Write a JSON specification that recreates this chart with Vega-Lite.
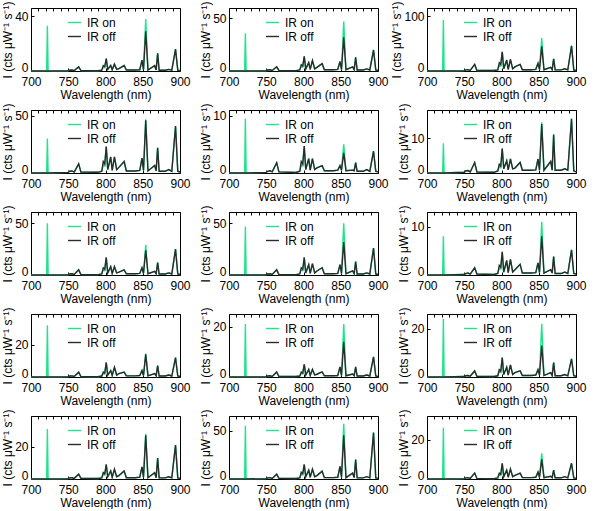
{
"$schema":"https://vega.github.io/schema/vega-lite/v6.json",
"padding":{"left":1,"top":0,"right":2,"bottom":0},
"data":{"values":[
{"p":1,"x":700,"on":0,"off":0},{"p":1,"x":721,"on":0,"off":0},{"p":1,"x":722,"on":33,"off":0},{"p":1,"x":723,"on":0,"off":0},{"p":1,"x":750,"on":0.2,"off":0.2},{"p":1,"x":752,"on":0.6,"off":0.6},{"p":1,"x":755,"on":0.7,"off":0.7},{"p":1,"x":758,"on":0.3,"off":0.3},{"p":1,"x":764,"on":3,"off":3},{"p":1,"x":767,"on":0.3,"off":0.3},{"p":1,"x":790,"on":0.2,"off":0.2},{"p":1,"x":795,"on":0.6,"off":0.6},{"p":1,"x":797,"on":2.8,"off":4},{"p":1,"x":799,"on":2.4,"off":3.2},{"p":1,"x":801,"on":9,"off":9},{"p":1,"x":803,"on":1.2,"off":1.2},{"p":1,"x":807,"on":4,"off":4},{"p":1,"x":809,"on":0.9,"off":0.9},{"p":1,"x":812,"on":5,"off":5},{"p":1,"x":815,"on":1.2,"off":1.2},{"p":1,"x":818,"on":1.8,"off":1.8},{"p":1,"x":825,"on":4,"off":4},{"p":1,"x":828,"on":0.7,"off":0.7},{"p":1,"x":840,"on":0.7,"off":0.7},{"p":1,"x":846,"on":0.9,"off":0.9},{"p":1,"x":849,"on":8,"off":8},{"p":1,"x":851,"on":0.9,"off":0.9},{"p":1,"x":854,"on":38,"off":29},{"p":1,"x":857,"on":0.7,"off":0.7},{"p":1,"x":866,"on":3.9,"off":3.9},{"p":1,"x":868,"on":0.7,"off":0.7},{"p":1,"x":870,"on":13,"off":13},{"p":1,"x":872,"on":0.6,"off":0.6},{"p":1,"x":880,"on":0.6,"off":0.6},{"p":1,"x":885,"on":1.2,"off":1.2},{"p":1,"x":889,"on":0.6,"off":0.6},{"p":1,"x":894,"on":16,"off":16},{"p":1,"x":897,"on":0.6,"off":0.6},{"p":1,"x":900,"on":0.3,"off":0.3},
{"p":2,"x":700,"on":0,"off":0},{"p":2,"x":721,"on":0,"off":0},{"p":2,"x":722,"on":36,"off":0},{"p":2,"x":723,"on":0,"off":0},{"p":2,"x":750,"on":0.3,"off":0.3},{"p":2,"x":752,"on":1,"off":1},{"p":2,"x":755,"on":1.2,"off":1.2},{"p":2,"x":758,"on":0.5,"off":0.5},{"p":2,"x":764,"on":4,"off":4},{"p":2,"x":767,"on":0.5,"off":0.5},{"p":2,"x":790,"on":0.4,"off":0.4},{"p":2,"x":795,"on":1,"off":1},{"p":2,"x":797,"on":4.2,"off":6},{"p":2,"x":799,"on":3.6,"off":4.8},{"p":2,"x":801,"on":14,"off":14},{"p":2,"x":803,"on":2,"off":2},{"p":2,"x":807,"on":8,"off":8},{"p":2,"x":809,"on":1.5,"off":1.5},{"p":2,"x":812,"on":10,"off":10},{"p":2,"x":815,"on":2,"off":2},{"p":2,"x":818,"on":3.5,"off":3.5},{"p":2,"x":825,"on":7,"off":7},{"p":2,"x":828,"on":1.2,"off":1.2},{"p":2,"x":840,"on":1.2,"off":1.2},{"p":2,"x":846,"on":1.5,"off":1.5},{"p":2,"x":849,"on":9,"off":9},{"p":2,"x":851,"on":1.5,"off":1.5},{"p":2,"x":854,"on":47,"off":32},{"p":2,"x":857,"on":1.2,"off":1.2},{"p":2,"x":866,"on":3.9,"off":3.9},{"p":2,"x":868,"on":1.2,"off":1.2},{"p":2,"x":870,"on":13,"off":13},{"p":2,"x":872,"on":1,"off":1},{"p":2,"x":880,"on":1,"off":1},{"p":2,"x":885,"on":2,"off":2},{"p":2,"x":889,"on":1,"off":1},{"p":2,"x":894,"on":20,"off":20},{"p":2,"x":897,"on":1,"off":1},{"p":2,"x":900,"on":0.5,"off":0.5},
{"p":3,"x":700,"on":0,"off":0},{"p":3,"x":721,"on":0,"off":0},{"p":3,"x":722,"on":93,"off":0},{"p":3,"x":723,"on":0,"off":0},{"p":3,"x":750,"on":0.6,"off":0.6},{"p":3,"x":752,"on":2,"off":2},{"p":3,"x":755,"on":2.4,"off":2.4},{"p":3,"x":758,"on":1,"off":1},{"p":3,"x":764,"on":12,"off":12},{"p":3,"x":767,"on":1,"off":1},{"p":3,"x":790,"on":0.8,"off":0.8},{"p":3,"x":795,"on":2,"off":2},{"p":3,"x":797,"on":10.5,"off":15},{"p":3,"x":799,"on":9,"off":12},{"p":3,"x":801,"on":35,"off":35},{"p":3,"x":803,"on":4,"off":4},{"p":3,"x":807,"on":20,"off":20},{"p":3,"x":809,"on":3,"off":3},{"p":3,"x":812,"on":21,"off":21},{"p":3,"x":815,"on":4,"off":4},{"p":3,"x":818,"on":7.4,"off":7.4},{"p":3,"x":825,"on":12,"off":12},{"p":3,"x":828,"on":2.4,"off":2.4},{"p":3,"x":840,"on":2.4,"off":2.4},{"p":3,"x":846,"on":3,"off":3},{"p":3,"x":849,"on":14,"off":14},{"p":3,"x":851,"on":3,"off":3},{"p":3,"x":854,"on":60,"off":45},{"p":3,"x":857,"on":2.4,"off":2.4},{"p":3,"x":866,"on":6.6,"off":6.6},{"p":3,"x":868,"on":2.4,"off":2.4},{"p":3,"x":870,"on":22,"off":22},{"p":3,"x":872,"on":2,"off":2},{"p":3,"x":880,"on":2,"off":2},{"p":3,"x":885,"on":4,"off":4},{"p":3,"x":889,"on":2,"off":2},{"p":3,"x":894,"on":46,"off":46},{"p":3,"x":897,"on":2,"off":2},{"p":3,"x":900,"on":1,"off":1},
{"p":4,"x":700,"on":0,"off":0},{"p":4,"x":721,"on":0,"off":0},{"p":4,"x":722,"on":30,"off":0},{"p":4,"x":723,"on":0,"off":0},{"p":4,"x":750,"on":0.5,"off":0.5},{"p":4,"x":752,"on":1.5,"off":1.5},{"p":4,"x":755,"on":1.8,"off":1.8},{"p":4,"x":758,"on":0.8,"off":0.8},{"p":4,"x":764,"on":8,"off":8},{"p":4,"x":767,"on":0.8,"off":0.8},{"p":4,"x":790,"on":0.6,"off":0.6},{"p":4,"x":795,"on":1.5,"off":1.5},{"p":4,"x":797,"on":7,"off":10},{"p":4,"x":799,"on":6,"off":8},{"p":4,"x":801,"on":23,"off":23},{"p":4,"x":803,"on":3,"off":3},{"p":4,"x":807,"on":14,"off":14},{"p":4,"x":809,"on":2.3,"off":2.3},{"p":4,"x":812,"on":14,"off":14},{"p":4,"x":815,"on":3,"off":3},{"p":4,"x":818,"on":4.9,"off":4.9},{"p":4,"x":825,"on":10,"off":10},{"p":4,"x":828,"on":1.8,"off":1.8},{"p":4,"x":840,"on":1.8,"off":1.8},{"p":4,"x":846,"on":2.3,"off":2.3},{"p":4,"x":849,"on":13,"off":13},{"p":4,"x":851,"on":2.3,"off":2.3},{"p":4,"x":854,"on":47,"off":46},{"p":4,"x":857,"on":1.8,"off":1.8},{"p":4,"x":866,"on":6.6,"off":6.6},{"p":4,"x":868,"on":1.8,"off":1.8},{"p":4,"x":870,"on":22,"off":22},{"p":4,"x":872,"on":1.5,"off":1.5},{"p":4,"x":880,"on":1.5,"off":1.5},{"p":4,"x":885,"on":3,"off":3},{"p":4,"x":889,"on":1.5,"off":1.5},{"p":4,"x":894,"on":41,"off":41},{"p":4,"x":897,"on":1.5,"off":1.5},{"p":4,"x":900,"on":0.8,"off":0.8},
{"p":5,"x":700,"on":0,"off":0},{"p":5,"x":721,"on":0,"off":0},{"p":5,"x":722,"on":9.5,"off":0},{"p":5,"x":723,"on":0,"off":0},{"p":5,"x":750,"on":0.1,"off":0.1},{"p":5,"x":752,"on":0.3,"off":0.3},{"p":5,"x":755,"on":0.4,"off":0.4},{"p":5,"x":758,"on":0.2,"off":0.2},{"p":5,"x":764,"on":1.8,"off":1.8},{"p":5,"x":767,"on":0.2,"off":0.2},{"p":5,"x":790,"on":0.1,"off":0.1},{"p":5,"x":795,"on":0.3,"off":0.3},{"p":5,"x":797,"on":1.4,"off":2},{"p":5,"x":799,"on":1.2,"off":1.6},{"p":5,"x":801,"on":4.7,"off":4.7},{"p":5,"x":803,"on":0.6,"off":0.6},{"p":5,"x":807,"on":2.5,"off":2.5},{"p":5,"x":809,"on":0.5,"off":0.5},{"p":5,"x":812,"on":2.5,"off":2.5},{"p":5,"x":815,"on":0.6,"off":0.6},{"p":5,"x":818,"on":0.9,"off":0.9},{"p":5,"x":825,"on":1.3,"off":1.3},{"p":5,"x":828,"on":0.4,"off":0.4},{"p":5,"x":840,"on":0.4,"off":0.4},{"p":5,"x":846,"on":0.5,"off":0.5},{"p":5,"x":849,"on":1.3,"off":1.3},{"p":5,"x":851,"on":0.5,"off":0.5},{"p":5,"x":854,"on":5,"off":3.5},{"p":5,"x":857,"on":0.4,"off":0.4},{"p":5,"x":866,"on":0.5,"off":0.5},{"p":5,"x":868,"on":0.4,"off":0.4},{"p":5,"x":870,"on":1.8,"off":1.8},{"p":5,"x":872,"on":0.3,"off":0.3},{"p":5,"x":880,"on":0.3,"off":0.3},{"p":5,"x":885,"on":0.6,"off":0.6},{"p":5,"x":889,"on":0.3,"off":0.3},{"p":5,"x":894,"on":3.8,"off":3.8},{"p":5,"x":897,"on":0.3,"off":0.3},{"p":5,"x":900,"on":0.2,"off":0.2},
{"p":6,"x":700,"on":0,"off":0},{"p":6,"x":721,"on":0,"off":0},{"p":6,"x":722,"on":8.5,"off":0},{"p":6,"x":723,"on":0,"off":0},{"p":6,"x":750,"on":0.2,"off":0.2},{"p":6,"x":752,"on":0.6,"off":0.6},{"p":6,"x":755,"on":0.7,"off":0.7},{"p":6,"x":758,"on":0.3,"off":0.3},{"p":6,"x":764,"on":3,"off":3},{"p":6,"x":767,"on":0.3,"off":0.3},{"p":6,"x":790,"on":0.2,"off":0.2},{"p":6,"x":795,"on":0.6,"off":0.6},{"p":6,"x":797,"on":1.8,"off":2.5},{"p":6,"x":799,"on":1.5,"off":2},{"p":6,"x":801,"on":7,"off":7},{"p":6,"x":803,"on":1.2,"off":1.2},{"p":6,"x":807,"on":3.5,"off":3.5},{"p":6,"x":809,"on":0.9,"off":0.9},{"p":6,"x":812,"on":4,"off":4},{"p":6,"x":815,"on":1.2,"off":1.2},{"p":6,"x":818,"on":1.4,"off":1.4},{"p":6,"x":825,"on":3,"off":3},{"p":6,"x":828,"on":0.8,"off":0.8},{"p":6,"x":840,"on":0.8,"off":0.8},{"p":6,"x":846,"on":0.9,"off":0.9},{"p":6,"x":849,"on":4,"off":4},{"p":6,"x":851,"on":0.9,"off":0.9},{"p":6,"x":854,"on":14.5,"off":14},{"p":6,"x":857,"on":0.8,"off":0.8},{"p":6,"x":866,"on":3.3,"off":3.3},{"p":6,"x":868,"on":0.8,"off":0.8},{"p":6,"x":870,"on":11,"off":11},{"p":6,"x":872,"on":0.8,"off":0.8},{"p":6,"x":880,"on":0.8,"off":0.8},{"p":6,"x":885,"on":1.2,"off":1.2},{"p":6,"x":889,"on":0.8,"off":0.8},{"p":6,"x":894,"on":15.5,"off":15.5},{"p":6,"x":897,"on":0.6,"off":0.6},{"p":6,"x":900,"on":0.3,"off":0.3},
{"p":7,"x":700,"on":0,"off":0},{"p":7,"x":721,"on":0,"off":0},{"p":7,"x":722,"on":50,"off":0},{"p":7,"x":723,"on":0,"off":0},{"p":7,"x":750,"on":0.3,"off":0.3},{"p":7,"x":752,"on":1,"off":1},{"p":7,"x":755,"on":1.2,"off":1.2},{"p":7,"x":758,"on":0.5,"off":0.5},{"p":7,"x":764,"on":5,"off":5},{"p":7,"x":767,"on":0.5,"off":0.5},{"p":7,"x":790,"on":0.4,"off":0.4},{"p":7,"x":795,"on":1,"off":1},{"p":7,"x":797,"on":4.9,"off":7},{"p":7,"x":799,"on":4.2,"off":5.6},{"p":7,"x":801,"on":17,"off":17},{"p":7,"x":803,"on":2,"off":2},{"p":7,"x":807,"on":8,"off":8},{"p":7,"x":809,"on":1.5,"off":1.5},{"p":7,"x":812,"on":8,"off":8},{"p":7,"x":815,"on":2,"off":2},{"p":7,"x":818,"on":2.8,"off":2.8},{"p":7,"x":825,"on":5,"off":5},{"p":7,"x":828,"on":1.2,"off":1.2},{"p":7,"x":840,"on":1.2,"off":1.2},{"p":7,"x":846,"on":1.5,"off":1.5},{"p":7,"x":849,"on":7,"off":7},{"p":7,"x":851,"on":1.5,"off":1.5},{"p":7,"x":854,"on":29,"off":24},{"p":7,"x":857,"on":1.2,"off":1.2},{"p":7,"x":866,"on":3.6,"off":3.6},{"p":7,"x":868,"on":1.2,"off":1.2},{"p":7,"x":870,"on":12,"off":12},{"p":7,"x":872,"on":1,"off":1},{"p":7,"x":880,"on":1,"off":1},{"p":7,"x":885,"on":2,"off":2},{"p":7,"x":889,"on":1,"off":1},{"p":7,"x":894,"on":25,"off":25},{"p":7,"x":897,"on":1,"off":1},{"p":7,"x":900,"on":0.5,"off":0.5},
{"p":8,"x":700,"on":0,"off":0},{"p":8,"x":721,"on":0,"off":0},{"p":8,"x":722,"on":47,"off":0},{"p":8,"x":723,"on":0,"off":0},{"p":8,"x":750,"on":0.3,"off":0.3},{"p":8,"x":752,"on":1,"off":1},{"p":8,"x":755,"on":1.2,"off":1.2},{"p":8,"x":758,"on":0.5,"off":0.5},{"p":8,"x":764,"on":5,"off":5},{"p":8,"x":767,"on":0.5,"off":0.5},{"p":8,"x":790,"on":0.4,"off":0.4},{"p":8,"x":795,"on":1,"off":1},{"p":8,"x":797,"on":4.9,"off":7},{"p":8,"x":799,"on":4.2,"off":5.6},{"p":8,"x":801,"on":17,"off":17},{"p":8,"x":803,"on":2,"off":2},{"p":8,"x":807,"on":10,"off":10},{"p":8,"x":809,"on":1.5,"off":1.5},{"p":8,"x":812,"on":11,"off":11},{"p":8,"x":815,"on":2,"off":2},{"p":8,"x":818,"on":3.9,"off":3.9},{"p":8,"x":825,"on":7,"off":7},{"p":8,"x":828,"on":1.2,"off":1.2},{"p":8,"x":840,"on":1.2,"off":1.2},{"p":8,"x":846,"on":1.5,"off":1.5},{"p":8,"x":849,"on":10,"off":10},{"p":8,"x":851,"on":1.5,"off":1.5},{"p":8,"x":854,"on":50,"off":32},{"p":8,"x":857,"on":1.2,"off":1.2},{"p":8,"x":866,"on":3.9,"off":3.9},{"p":8,"x":868,"on":1.2,"off":1.2},{"p":8,"x":870,"on":13,"off":13},{"p":8,"x":872,"on":1,"off":1},{"p":8,"x":880,"on":1,"off":1},{"p":8,"x":885,"on":2,"off":2},{"p":8,"x":889,"on":1,"off":1},{"p":8,"x":894,"on":26,"off":26},{"p":8,"x":897,"on":1,"off":1},{"p":8,"x":900,"on":0.5,"off":0.5},
{"p":9,"x":700,"on":0,"off":0},{"p":9,"x":721,"on":0,"off":0},{"p":9,"x":722,"on":8,"off":0},{"p":9,"x":723,"on":0,"off":0},{"p":9,"x":750,"on":0.1,"off":0.1},{"p":9,"x":752,"on":0.3,"off":0.3},{"p":9,"x":755,"on":0.4,"off":0.4},{"p":9,"x":758,"on":0.2,"off":0.2},{"p":9,"x":764,"on":1.5,"off":1.5},{"p":9,"x":767,"on":0.2,"off":0.2},{"p":9,"x":790,"on":0.1,"off":0.1},{"p":9,"x":795,"on":0.3,"off":0.3},{"p":9,"x":797,"on":1.4,"off":2},{"p":9,"x":799,"on":1.2,"off":1.6},{"p":9,"x":801,"on":4.8,"off":4.8},{"p":9,"x":803,"on":0.6,"off":0.6},{"p":9,"x":807,"on":3,"off":3},{"p":9,"x":809,"on":0.5,"off":0.5},{"p":9,"x":812,"on":3.2,"off":3.2},{"p":9,"x":815,"on":0.6,"off":0.6},{"p":9,"x":818,"on":1.1,"off":1.1},{"p":9,"x":825,"on":2.2,"off":2.2},{"p":9,"x":828,"on":0.4,"off":0.4},{"p":9,"x":840,"on":0.4,"off":0.4},{"p":9,"x":846,"on":0.5,"off":0.5},{"p":9,"x":849,"on":2.5,"off":2.5},{"p":9,"x":851,"on":0.5,"off":0.5},{"p":9,"x":854,"on":11,"off":8},{"p":9,"x":857,"on":0.4,"off":0.4},{"p":9,"x":866,"on":1.1,"off":1.1},{"p":9,"x":868,"on":0.4,"off":0.4},{"p":9,"x":870,"on":3.8,"off":3.8},{"p":9,"x":872,"on":0.3,"off":0.3},{"p":9,"x":880,"on":0.3,"off":0.3},{"p":9,"x":885,"on":0.6,"off":0.6},{"p":9,"x":889,"on":0.3,"off":0.3},{"p":9,"x":894,"on":5.2,"off":5.2},{"p":9,"x":897,"on":0.3,"off":0.3},{"p":9,"x":900,"on":0.2,"off":0.2},
{"p":10,"x":700,"on":0,"off":0},{"p":10,"x":721,"on":0,"off":0},{"p":10,"x":722,"on":32,"off":0},{"p":10,"x":723,"on":0,"off":0},{"p":10,"x":750,"on":0.2,"off":0.2},{"p":10,"x":752,"on":0.6,"off":0.6},{"p":10,"x":755,"on":0.7,"off":0.7},{"p":10,"x":758,"on":0.3,"off":0.3},{"p":10,"x":764,"on":3,"off":3},{"p":10,"x":767,"on":0.3,"off":0.3},{"p":10,"x":790,"on":0.2,"off":0.2},{"p":10,"x":795,"on":0.6,"off":0.6},{"p":10,"x":797,"on":2.1,"off":3},{"p":10,"x":799,"on":1.8,"off":2.4},{"p":10,"x":801,"on":9,"off":9},{"p":10,"x":803,"on":1.2,"off":1.2},{"p":10,"x":807,"on":4,"off":4},{"p":10,"x":809,"on":0.9,"off":0.9},{"p":10,"x":812,"on":6,"off":6},{"p":10,"x":815,"on":1.2,"off":1.2},{"p":10,"x":818,"on":2.1,"off":2.1},{"p":10,"x":825,"on":3,"off":3},{"p":10,"x":828,"on":0.7,"off":0.7},{"p":10,"x":840,"on":0.7,"off":0.7},{"p":10,"x":846,"on":0.9,"off":0.9},{"p":10,"x":849,"on":4,"off":4},{"p":10,"x":851,"on":0.9,"off":0.9},{"p":10,"x":854,"on":14.5,"off":14},{"p":10,"x":857,"on":0.7,"off":0.7},{"p":10,"x":866,"on":2.1,"off":2.1},{"p":10,"x":868,"on":0.7,"off":0.7},{"p":10,"x":870,"on":7,"off":7},{"p":10,"x":872,"on":0.6,"off":0.6},{"p":10,"x":880,"on":0.6,"off":0.6},{"p":10,"x":885,"on":1.2,"off":1.2},{"p":10,"x":889,"on":0.6,"off":0.6},{"p":10,"x":894,"on":12,"off":12},{"p":10,"x":897,"on":0.6,"off":0.6},{"p":10,"x":900,"on":0.3,"off":0.3},
{"p":11,"x":700,"on":0,"off":0},{"p":11,"x":721,"on":0,"off":0},{"p":11,"x":722,"on":21,"off":0},{"p":11,"x":723,"on":0,"off":0},{"p":11,"x":750,"on":0.1,"off":0.1},{"p":11,"x":752,"on":0.4,"off":0.4},{"p":11,"x":755,"on":0.5,"off":0.5},{"p":11,"x":758,"on":0.2,"off":0.2},{"p":11,"x":764,"on":2,"off":2},{"p":11,"x":767,"on":0.2,"off":0.2},{"p":11,"x":790,"on":0.2,"off":0.2},{"p":11,"x":795,"on":0.4,"off":0.4},{"p":11,"x":797,"on":1.4,"off":2},{"p":11,"x":799,"on":1.2,"off":1.6},{"p":11,"x":801,"on":5,"off":5},{"p":11,"x":803,"on":0.8,"off":0.8},{"p":11,"x":807,"on":3,"off":3},{"p":11,"x":809,"on":0.6,"off":0.6},{"p":11,"x":812,"on":3,"off":3},{"p":11,"x":815,"on":0.8,"off":0.8},{"p":11,"x":818,"on":1.1,"off":1.1},{"p":11,"x":825,"on":2,"off":2},{"p":11,"x":828,"on":0.5,"off":0.5},{"p":11,"x":840,"on":0.5,"off":0.5},{"p":11,"x":846,"on":0.6,"off":0.6},{"p":11,"x":849,"on":4,"off":4},{"p":11,"x":851,"on":0.6,"off":0.6},{"p":11,"x":854,"on":21,"off":14},{"p":11,"x":857,"on":0.5,"off":0.5},{"p":11,"x":866,"on":1.2,"off":1.2},{"p":11,"x":868,"on":0.5,"off":0.5},{"p":11,"x":870,"on":4,"off":4},{"p":11,"x":872,"on":0.4,"off":0.4},{"p":11,"x":880,"on":0.4,"off":0.4},{"p":11,"x":885,"on":0.8,"off":0.8},{"p":11,"x":889,"on":0.4,"off":0.4},{"p":11,"x":894,"on":8,"off":8},{"p":11,"x":897,"on":0.4,"off":0.4},{"p":11,"x":900,"on":0.2,"off":0.2},
{"p":12,"x":700,"on":0,"off":0},{"p":12,"x":721,"on":0,"off":0},{"p":12,"x":722,"on":24,"off":0},{"p":12,"x":723,"on":0,"off":0},{"p":12,"x":750,"on":0.2,"off":0.2},{"p":12,"x":752,"on":0.5,"off":0.5},{"p":12,"x":755,"on":0.6,"off":0.6},{"p":12,"x":758,"on":0.3,"off":0.3},{"p":12,"x":764,"on":2.5,"off":2.5},{"p":12,"x":767,"on":0.3,"off":0.3},{"p":12,"x":790,"on":0.2,"off":0.2},{"p":12,"x":795,"on":0.5,"off":0.5},{"p":12,"x":797,"on":2.1,"off":3},{"p":12,"x":799,"on":1.8,"off":2.4},{"p":12,"x":801,"on":8,"off":8},{"p":12,"x":803,"on":1,"off":1},{"p":12,"x":807,"on":4,"off":4},{"p":12,"x":809,"on":0.8,"off":0.8},{"p":12,"x":812,"on":5,"off":5},{"p":12,"x":815,"on":1,"off":1},{"p":12,"x":818,"on":1.8,"off":1.8},{"p":12,"x":825,"on":2.5,"off":2.5},{"p":12,"x":828,"on":0.6,"off":0.6},{"p":12,"x":840,"on":0.6,"off":0.6},{"p":12,"x":846,"on":0.8,"off":0.8},{"p":12,"x":849,"on":3,"off":3},{"p":12,"x":851,"on":0.8,"off":0.8},{"p":12,"x":854,"on":22,"off":13},{"p":12,"x":857,"on":0.6,"off":0.6},{"p":12,"x":866,"on":1.8,"off":1.8},{"p":12,"x":868,"on":0.6,"off":0.6},{"p":12,"x":870,"on":6,"off":6},{"p":12,"x":872,"on":0.5,"off":0.5},{"p":12,"x":880,"on":0.5,"off":0.5},{"p":12,"x":885,"on":1,"off":1},{"p":12,"x":889,"on":0.5,"off":0.5},{"p":12,"x":894,"on":7.5,"off":7.5},{"p":12,"x":897,"on":0.5,"off":0.5},{"p":12,"x":900,"on":0.3,"off":0.3},
{"p":13,"x":700,"on":0,"off":0},{"p":13,"x":721,"on":0,"off":0},{"p":13,"x":722,"on":31,"off":0},{"p":13,"x":723,"on":0,"off":0},{"p":13,"x":750,"on":0.2,"off":0.2},{"p":13,"x":752,"on":0.7,"off":0.7},{"p":13,"x":755,"on":0.8,"off":0.8},{"p":13,"x":758,"on":0.4,"off":0.4},{"p":13,"x":764,"on":3,"off":3},{"p":13,"x":767,"on":0.4,"off":0.4},{"p":13,"x":790,"on":0.3,"off":0.3},{"p":13,"x":795,"on":0.7,"off":0.7},{"p":13,"x":797,"on":2.8,"off":4},{"p":13,"x":799,"on":2.4,"off":3.2},{"p":13,"x":801,"on":9,"off":9},{"p":13,"x":803,"on":1.4,"off":1.4},{"p":13,"x":807,"on":5,"off":5},{"p":13,"x":809,"on":1.1,"off":1.1},{"p":13,"x":812,"on":6,"off":6},{"p":13,"x":815,"on":1.4,"off":1.4},{"p":13,"x":818,"on":2.1,"off":2.1},{"p":13,"x":825,"on":5,"off":5},{"p":13,"x":828,"on":0.8,"off":0.8},{"p":13,"x":840,"on":0.8,"off":0.8},{"p":13,"x":846,"on":1.1,"off":1.1},{"p":13,"x":849,"on":7.5,"off":7.5},{"p":13,"x":851,"on":1.1,"off":1.1},{"p":13,"x":854,"on":28,"off":27},{"p":13,"x":857,"on":0.8,"off":0.8},{"p":13,"x":866,"on":3.9,"off":3.9},{"p":13,"x":868,"on":0.8,"off":0.8},{"p":13,"x":870,"on":13,"off":13},{"p":13,"x":872,"on":0.7,"off":0.7},{"p":13,"x":880,"on":0.7,"off":0.7},{"p":13,"x":885,"on":1.4,"off":1.4},{"p":13,"x":889,"on":0.7,"off":0.7},{"p":13,"x":894,"on":21,"off":21},{"p":13,"x":897,"on":0.7,"off":0.7},{"p":13,"x":900,"on":0.4,"off":0.4},
{"p":14,"x":700,"on":0,"off":0},{"p":14,"x":721,"on":0,"off":0},{"p":14,"x":722,"on":55,"off":0},{"p":14,"x":723,"on":0,"off":0},{"p":14,"x":750,"on":0.4,"off":0.4},{"p":14,"x":752,"on":1.2,"off":1.2},{"p":14,"x":755,"on":1.4,"off":1.4},{"p":14,"x":758,"on":0.6,"off":0.6},{"p":14,"x":764,"on":5,"off":5},{"p":14,"x":767,"on":0.6,"off":0.6},{"p":14,"x":790,"on":0.5,"off":0.5},{"p":14,"x":795,"on":1.2,"off":1.2},{"p":14,"x":797,"on":4.9,"off":7},{"p":14,"x":799,"on":4.2,"off":5.6},{"p":14,"x":801,"on":15,"off":15},{"p":14,"x":803,"on":2.4,"off":2.4},{"p":14,"x":807,"on":9,"off":9},{"p":14,"x":809,"on":1.8,"off":1.8},{"p":14,"x":812,"on":10,"off":10},{"p":14,"x":815,"on":2.4,"off":2.4},{"p":14,"x":818,"on":3.5,"off":3.5},{"p":14,"x":825,"on":8,"off":8},{"p":14,"x":828,"on":1.4,"off":1.4},{"p":14,"x":840,"on":1.4,"off":1.4},{"p":14,"x":846,"on":1.8,"off":1.8},{"p":14,"x":849,"on":13,"off":13},{"p":14,"x":851,"on":1.8,"off":1.8},{"p":14,"x":854,"on":57,"off":45},{"p":14,"x":857,"on":1.4,"off":1.4},{"p":14,"x":866,"on":6,"off":6},{"p":14,"x":868,"on":1.4,"off":1.4},{"p":14,"x":870,"on":20,"off":20},{"p":14,"x":872,"on":1.2,"off":1.2},{"p":14,"x":880,"on":1.2,"off":1.2},{"p":14,"x":885,"on":2.4,"off":2.4},{"p":14,"x":889,"on":1.2,"off":1.2},{"p":14,"x":894,"on":48,"off":48},{"p":14,"x":897,"on":1.2,"off":1.2},{"p":14,"x":900,"on":0.6,"off":0.6},
{"p":15,"x":700,"on":0,"off":0},{"p":15,"x":721,"on":0,"off":0},{"p":15,"x":722,"on":26,"off":0},{"p":15,"x":723,"on":0,"off":0},{"p":15,"x":750,"on":0.2,"off":0.2},{"p":15,"x":752,"on":0.6,"off":0.6},{"p":15,"x":755,"on":0.7,"off":0.7},{"p":15,"x":758,"on":0.3,"off":0.3},{"p":15,"x":764,"on":3,"off":3},{"p":15,"x":767,"on":0.3,"off":0.3},{"p":15,"x":790,"on":0.2,"off":0.2},{"p":15,"x":795,"on":0.6,"off":0.6},{"p":15,"x":797,"on":2.1,"off":3},{"p":15,"x":799,"on":1.8,"off":2.4},{"p":15,"x":801,"on":8,"off":8},{"p":15,"x":803,"on":1.2,"off":1.2},{"p":15,"x":807,"on":4.5,"off":4.5},{"p":15,"x":809,"on":0.9,"off":0.9},{"p":15,"x":812,"on":5,"off":5},{"p":15,"x":815,"on":1.2,"off":1.2},{"p":15,"x":818,"on":1.8,"off":1.8},{"p":15,"x":825,"on":3,"off":3},{"p":15,"x":828,"on":0.7,"off":0.7},{"p":15,"x":840,"on":0.7,"off":0.7},{"p":15,"x":846,"on":0.9,"off":0.9},{"p":15,"x":849,"on":3.5,"off":3.5},{"p":15,"x":851,"on":0.9,"off":0.9},{"p":15,"x":854,"on":13,"off":10},{"p":15,"x":857,"on":0.7,"off":0.7},{"p":15,"x":866,"on":1.4,"off":1.4},{"p":15,"x":868,"on":0.7,"off":0.7},{"p":15,"x":870,"on":4.5,"off":4.5},{"p":15,"x":872,"on":0.6,"off":0.6},{"p":15,"x":880,"on":0.6,"off":0.6},{"p":15,"x":885,"on":1.2,"off":1.2},{"p":15,"x":889,"on":0.6,"off":0.6},{"p":15,"x":894,"on":8,"off":8},{"p":15,"x":897,"on":0.6,"off":0.6},{"p":15,"x":900,"on":0.3,"off":0.3}
]},
"columns":3,
"spacing":{"row":39,"column":49},
"bounds":"flush",
"resolve":{"scale":{"x":"independent","y":"independent","color":"independent"},"axis":{"x":"independent","y":"independent"},"legend":{"color":"independent"}},
"concat":[
{"transform":[{"filter":"datum.p==1"}],"resolve":{"axis":{"x":"independent"}},"layer":[{"mark":"line","encoding":{"x":{"field":"x","type":"quantitative","scale":{"domain":[700,900],"nice":false},"axis":{"values":[700,750,800,850,900]},"title":"Wavelength (nm)"},"y":{"field":"on","type":"quantitative","scale":{"domain":[0,46],"nice":false},"axis":{"values":[0,20,40],"labelOffset":{"condition":{"test":"datum.value===0","value":-4},"value":0}},"title":"I (cts μW⁻¹ s⁻¹)"},"color":{"datum":"IR on","scale":{"domain":["IR on","IR off"],"range":["#22e38b","#2b2b2b"]},"legend":{"title":null}}}},{"mark":"line","encoding":{"x":{"field":"x","type":"quantitative","axis":null},"y":{"field":"off","type":"quantitative","title":"I (cts μW⁻¹ s⁻¹)"},"color":{"datum":"IR off"}}},{"mark":{"type":"rule","opacity":0},"encoding":{"x":{"field":"x","type":"quantitative","axis":{"orient":"top","labels":false,"title":null,"values":[700,710,720,730,740,750,760,770,780,790,800,810,820,830,840,850,860,870,880,890,900]}}}}]},
{"transform":[{"filter":"datum.p==2"}],"resolve":{"axis":{"x":"independent"}},"layer":[{"mark":"line","encoding":{"x":{"field":"x","type":"quantitative","scale":{"domain":[700,900],"nice":false},"axis":{"values":[700,750,800,850,900]},"title":"Wavelength (nm)"},"y":{"field":"on","type":"quantitative","scale":{"domain":[0,60],"nice":false},"axis":{"values":[0,50],"labelOffset":{"condition":{"test":"datum.value===0","value":-4},"value":0}},"title":"I (cts μW⁻¹ s⁻¹)"},"color":{"datum":"IR on","scale":{"domain":["IR on","IR off"],"range":["#22e38b","#2b2b2b"]},"legend":{"title":null}}}},{"mark":"line","encoding":{"x":{"field":"x","type":"quantitative","axis":null},"y":{"field":"off","type":"quantitative","title":"I (cts μW⁻¹ s⁻¹)"},"color":{"datum":"IR off"}}},{"mark":{"type":"rule","opacity":0},"encoding":{"x":{"field":"x","type":"quantitative","axis":{"orient":"top","labels":false,"title":null,"values":[700,710,720,730,740,750,760,770,780,790,800,810,820,830,840,850,860,870,880,890,900]}}}}]},
{"transform":[{"filter":"datum.p==3"}],"resolve":{"axis":{"x":"independent"}},"layer":[{"mark":"line","encoding":{"x":{"field":"x","type":"quantitative","scale":{"domain":[700,900],"nice":false},"axis":{"values":[700,750,800,850,900]},"title":"Wavelength (nm)"},"y":{"field":"on","type":"quantitative","scale":{"domain":[0,115],"nice":false},"axis":{"values":[0,50,100],"labelOffset":{"condition":{"test":"datum.value===0","value":-4},"value":0}},"title":"I (cts μW⁻¹ s⁻¹)"},"color":{"datum":"IR on","scale":{"domain":["IR on","IR off"],"range":["#22e38b","#2b2b2b"]},"legend":{"title":null}}}},{"mark":"line","encoding":{"x":{"field":"x","type":"quantitative","axis":null},"y":{"field":"off","type":"quantitative","title":"I (cts μW⁻¹ s⁻¹)"},"color":{"datum":"IR off"}}},{"mark":{"type":"rule","opacity":0},"encoding":{"x":{"field":"x","type":"quantitative","axis":{"orient":"top","labels":false,"title":null,"values":[700,710,720,730,740,750,760,770,780,790,800,810,820,830,840,850,860,870,880,890,900]}}}}]},
{"transform":[{"filter":"datum.p==4"}],"resolve":{"axis":{"x":"independent"}},"layer":[{"mark":"line","encoding":{"x":{"field":"x","type":"quantitative","scale":{"domain":[700,900],"nice":false},"axis":{"values":[700,750,800,850,900]},"title":"Wavelength (nm)"},"y":{"field":"on","type":"quantitative","scale":{"domain":[0,55],"nice":false},"axis":{"values":[0,50],"labelOffset":{"condition":{"test":"datum.value===0","value":-4},"value":0}},"title":"I (cts μW⁻¹ s⁻¹)"},"color":{"datum":"IR on","scale":{"domain":["IR on","IR off"],"range":["#22e38b","#2b2b2b"]},"legend":{"title":null}}}},{"mark":"line","encoding":{"x":{"field":"x","type":"quantitative","axis":null},"y":{"field":"off","type":"quantitative","title":"I (cts μW⁻¹ s⁻¹)"},"color":{"datum":"IR off"}}},{"mark":{"type":"rule","opacity":0},"encoding":{"x":{"field":"x","type":"quantitative","axis":{"orient":"top","labels":false,"title":null,"values":[700,710,720,730,740,750,760,770,780,790,800,810,820,830,840,850,860,870,880,890,900]}}}}]},
{"transform":[{"filter":"datum.p==5"}],"resolve":{"axis":{"x":"independent"}},"layer":[{"mark":"line","encoding":{"x":{"field":"x","type":"quantitative","scale":{"domain":[700,900],"nice":false},"axis":{"values":[700,750,800,850,900]},"title":"Wavelength (nm)"},"y":{"field":"on","type":"quantitative","scale":{"domain":[0,11],"nice":false},"axis":{"values":[0,5,10],"labelOffset":{"condition":{"test":"datum.value===0","value":-4},"value":0}},"title":"I (cts μW⁻¹ s⁻¹)"},"color":{"datum":"IR on","scale":{"domain":["IR on","IR off"],"range":["#22e38b","#2b2b2b"]},"legend":{"title":null}}}},{"mark":"line","encoding":{"x":{"field":"x","type":"quantitative","axis":null},"y":{"field":"off","type":"quantitative","title":"I (cts μW⁻¹ s⁻¹)"},"color":{"datum":"IR off"}}},{"mark":{"type":"rule","opacity":0},"encoding":{"x":{"field":"x","type":"quantitative","axis":{"orient":"top","labels":false,"title":null,"values":[700,710,720,730,740,750,760,770,780,790,800,810,820,830,840,850,860,870,880,890,900]}}}}]},
{"transform":[{"filter":"datum.p==6"}],"resolve":{"axis":{"x":"independent"}},"layer":[{"mark":"line","encoding":{"x":{"field":"x","type":"quantitative","scale":{"domain":[700,900],"nice":false},"axis":{"values":[700,750,800,850,900]},"title":"Wavelength (nm)"},"y":{"field":"on","type":"quantitative","scale":{"domain":[0,18],"nice":false},"axis":{"values":[0,10],"labelOffset":{"condition":{"test":"datum.value===0","value":-4},"value":0}},"title":"I (cts μW⁻¹ s⁻¹)"},"color":{"datum":"IR on","scale":{"domain":["IR on","IR off"],"range":["#22e38b","#2b2b2b"]},"legend":{"title":null}}}},{"mark":"line","encoding":{"x":{"field":"x","type":"quantitative","axis":null},"y":{"field":"off","type":"quantitative","title":"I (cts μW⁻¹ s⁻¹)"},"color":{"datum":"IR off"}}},{"mark":{"type":"rule","opacity":0},"encoding":{"x":{"field":"x","type":"quantitative","axis":{"orient":"top","labels":false,"title":null,"values":[700,710,720,730,740,750,760,770,780,790,800,810,820,830,840,850,860,870,880,890,900]}}}}]},
{"transform":[{"filter":"datum.p==7"}],"resolve":{"axis":{"x":"independent"}},"layer":[{"mark":"line","encoding":{"x":{"field":"x","type":"quantitative","scale":{"domain":[700,900],"nice":false},"axis":{"values":[700,750,800,850,900]},"title":"Wavelength (nm)"},"y":{"field":"on","type":"quantitative","scale":{"domain":[0,61],"nice":false},"axis":{"values":[0,50],"labelOffset":{"condition":{"test":"datum.value===0","value":-4},"value":0}},"title":"I (cts μW⁻¹ s⁻¹)"},"color":{"datum":"IR on","scale":{"domain":["IR on","IR off"],"range":["#22e38b","#2b2b2b"]},"legend":{"title":null}}}},{"mark":"line","encoding":{"x":{"field":"x","type":"quantitative","axis":null},"y":{"field":"off","type":"quantitative","title":"I (cts μW⁻¹ s⁻¹)"},"color":{"datum":"IR off"}}},{"mark":{"type":"rule","opacity":0},"encoding":{"x":{"field":"x","type":"quantitative","axis":{"orient":"top","labels":false,"title":null,"values":[700,710,720,730,740,750,760,770,780,790,800,810,820,830,840,850,860,870,880,890,900]}}}}]},
{"transform":[{"filter":"datum.p==8"}],"resolve":{"axis":{"x":"independent"}},"layer":[{"mark":"line","encoding":{"x":{"field":"x","type":"quantitative","scale":{"domain":[700,900],"nice":false},"axis":{"values":[700,750,800,850,900]},"title":"Wavelength (nm)"},"y":{"field":"on","type":"quantitative","scale":{"domain":[0,61],"nice":false},"axis":{"values":[0,50],"labelOffset":{"condition":{"test":"datum.value===0","value":-4},"value":0}},"title":"I (cts μW⁻¹ s⁻¹)"},"color":{"datum":"IR on","scale":{"domain":["IR on","IR off"],"range":["#22e38b","#2b2b2b"]},"legend":{"title":null}}}},{"mark":"line","encoding":{"x":{"field":"x","type":"quantitative","axis":null},"y":{"field":"off","type":"quantitative","title":"I (cts μW⁻¹ s⁻¹)"},"color":{"datum":"IR off"}}},{"mark":{"type":"rule","opacity":0},"encoding":{"x":{"field":"x","type":"quantitative","axis":{"orient":"top","labels":false,"title":null,"values":[700,710,720,730,740,750,760,770,780,790,800,810,820,830,840,850,860,870,880,890,900]}}}}]},
{"transform":[{"filter":"datum.p==9"}],"resolve":{"axis":{"x":"independent"}},"layer":[{"mark":"line","encoding":{"x":{"field":"x","type":"quantitative","scale":{"domain":[700,900],"nice":false},"axis":{"values":[700,750,800,850,900]},"title":"Wavelength (nm)"},"y":{"field":"on","type":"quantitative","scale":{"domain":[0,13],"nice":false},"axis":{"values":[0,5,10],"labelOffset":{"condition":{"test":"datum.value===0","value":-4},"value":0}},"title":"I (cts μW⁻¹ s⁻¹)"},"color":{"datum":"IR on","scale":{"domain":["IR on","IR off"],"range":["#22e38b","#2b2b2b"]},"legend":{"title":null}}}},{"mark":"line","encoding":{"x":{"field":"x","type":"quantitative","axis":null},"y":{"field":"off","type":"quantitative","title":"I (cts μW⁻¹ s⁻¹)"},"color":{"datum":"IR off"}}},{"mark":{"type":"rule","opacity":0},"encoding":{"x":{"field":"x","type":"quantitative","axis":{"orient":"top","labels":false,"title":null,"values":[700,710,720,730,740,750,760,770,780,790,800,810,820,830,840,850,860,870,880,890,900]}}}}]},
{"transform":[{"filter":"datum.p==10"}],"resolve":{"axis":{"x":"independent"}},"layer":[{"mark":"line","encoding":{"x":{"field":"x","type":"quantitative","scale":{"domain":[700,900],"nice":false},"axis":{"values":[700,750,800,850,900]},"title":"Wavelength (nm)"},"y":{"field":"on","type":"quantitative","scale":{"domain":[0,39],"nice":false},"axis":{"values":[0,20],"labelOffset":{"condition":{"test":"datum.value===0","value":-4},"value":0}},"title":"I (cts μW⁻¹ s⁻¹)"},"color":{"datum":"IR on","scale":{"domain":["IR on","IR off"],"range":["#22e38b","#2b2b2b"]},"legend":{"title":null}}}},{"mark":"line","encoding":{"x":{"field":"x","type":"quantitative","axis":null},"y":{"field":"off","type":"quantitative","title":"I (cts μW⁻¹ s⁻¹)"},"color":{"datum":"IR off"}}},{"mark":{"type":"rule","opacity":0},"encoding":{"x":{"field":"x","type":"quantitative","axis":{"orient":"top","labels":false,"title":null,"values":[700,710,720,730,740,750,760,770,780,790,800,810,820,830,840,850,860,870,880,890,900]}}}}]},
{"transform":[{"filter":"datum.p==11"}],"resolve":{"axis":{"x":"independent"}},"layer":[{"mark":"line","encoding":{"x":{"field":"x","type":"quantitative","scale":{"domain":[700,900],"nice":false},"axis":{"values":[700,750,800,850,900]},"title":"Wavelength (nm)"},"y":{"field":"on","type":"quantitative","scale":{"domain":[0,25],"nice":false},"axis":{"values":[0,10,20],"labelOffset":{"condition":{"test":"datum.value===0","value":-4},"value":0}},"title":"I (cts μW⁻¹ s⁻¹)"},"color":{"datum":"IR on","scale":{"domain":["IR on","IR off"],"range":["#22e38b","#2b2b2b"]},"legend":{"title":null}}}},{"mark":"line","encoding":{"x":{"field":"x","type":"quantitative","axis":null},"y":{"field":"off","type":"quantitative","title":"I (cts μW⁻¹ s⁻¹)"},"color":{"datum":"IR off"}}},{"mark":{"type":"rule","opacity":0},"encoding":{"x":{"field":"x","type":"quantitative","axis":{"orient":"top","labels":false,"title":null,"values":[700,710,720,730,740,750,760,770,780,790,800,810,820,830,840,850,860,870,880,890,900]}}}}]},
{"transform":[{"filter":"datum.p==12"}],"resolve":{"axis":{"x":"independent"}},"layer":[{"mark":"line","encoding":{"x":{"field":"x","type":"quantitative","scale":{"domain":[700,900],"nice":false},"axis":{"values":[700,750,800,850,900]},"title":"Wavelength (nm)"},"y":{"field":"on","type":"quantitative","scale":{"domain":[0,26],"nice":false},"axis":{"values":[0,10,20],"labelOffset":{"condition":{"test":"datum.value===0","value":-4},"value":0}},"title":"I (cts μW⁻¹ s⁻¹)"},"color":{"datum":"IR on","scale":{"domain":["IR on","IR off"],"range":["#22e38b","#2b2b2b"]},"legend":{"title":null}}}},{"mark":"line","encoding":{"x":{"field":"x","type":"quantitative","axis":null},"y":{"field":"off","type":"quantitative","title":"I (cts μW⁻¹ s⁻¹)"},"color":{"datum":"IR off"}}},{"mark":{"type":"rule","opacity":0},"encoding":{"x":{"field":"x","type":"quantitative","axis":{"orient":"top","labels":false,"title":null,"values":[700,710,720,730,740,750,760,770,780,790,800,810,820,830,840,850,860,870,880,890,900]}}}}]},
{"transform":[{"filter":"datum.p==13"}],"resolve":{"axis":{"x":"independent"}},"layer":[{"mark":"line","encoding":{"x":{"field":"x","type":"quantitative","scale":{"domain":[700,900],"nice":false},"axis":{"values":[700,750,800,850,900]},"title":"Wavelength (nm)"},"y":{"field":"on","type":"quantitative","scale":{"domain":[0,39],"nice":false},"axis":{"values":[0,20],"labelOffset":{"condition":{"test":"datum.value===0","value":-4},"value":0}},"title":"I (cts μW⁻¹ s⁻¹)"},"color":{"datum":"IR on","scale":{"domain":["IR on","IR off"],"range":["#22e38b","#2b2b2b"]},"legend":{"title":null}}}},{"mark":"line","encoding":{"x":{"field":"x","type":"quantitative","axis":null},"y":{"field":"off","type":"quantitative","title":"I (cts μW⁻¹ s⁻¹)"},"color":{"datum":"IR off"}}},{"mark":{"type":"rule","opacity":0},"encoding":{"x":{"field":"x","type":"quantitative","axis":{"orient":"top","labels":false,"title":null,"values":[700,710,720,730,740,750,760,770,780,790,800,810,820,830,840,850,860,870,880,890,900]}}}}]},
{"transform":[{"filter":"datum.p==14"}],"resolve":{"axis":{"x":"independent"}},"layer":[{"mark":"line","encoding":{"x":{"field":"x","type":"quantitative","scale":{"domain":[700,900],"nice":false},"axis":{"values":[700,750,800,850,900]},"title":"Wavelength (nm)"},"y":{"field":"on","type":"quantitative","scale":{"domain":[0,65],"nice":false},"axis":{"values":[0,50],"labelOffset":{"condition":{"test":"datum.value===0","value":-4},"value":0}},"title":"I (cts μW⁻¹ s⁻¹)"},"color":{"datum":"IR on","scale":{"domain":["IR on","IR off"],"range":["#22e38b","#2b2b2b"]},"legend":{"title":null}}}},{"mark":"line","encoding":{"x":{"field":"x","type":"quantitative","axis":null},"y":{"field":"off","type":"quantitative","title":"I (cts μW⁻¹ s⁻¹)"},"color":{"datum":"IR off"}}},{"mark":{"type":"rule","opacity":0},"encoding":{"x":{"field":"x","type":"quantitative","axis":{"orient":"top","labels":false,"title":null,"values":[700,710,720,730,740,750,760,770,780,790,800,810,820,830,840,850,860,870,880,890,900]}}}}]},
{"transform":[{"filter":"datum.p==15"}],"resolve":{"axis":{"x":"independent"}},"layer":[{"mark":"line","encoding":{"x":{"field":"x","type":"quantitative","scale":{"domain":[700,900],"nice":false},"axis":{"values":[700,750,800,850,900]},"title":"Wavelength (nm)"},"y":{"field":"on","type":"quantitative","scale":{"domain":[0,32],"nice":false},"axis":{"values":[0,20],"labelOffset":{"condition":{"test":"datum.value===0","value":-4},"value":0}},"title":"I (cts μW⁻¹ s⁻¹)"},"color":{"datum":"IR on","scale":{"domain":["IR on","IR off"],"range":["#22e38b","#2b2b2b"]},"legend":{"title":null}}}},{"mark":"line","encoding":{"x":{"field":"x","type":"quantitative","axis":null},"y":{"field":"off","type":"quantitative","title":"I (cts μW⁻¹ s⁻¹)"},"color":{"datum":"IR off"}}},{"mark":{"type":"rule","opacity":0},"encoding":{"x":{"field":"x","type":"quantitative","axis":{"orient":"top","labels":false,"title":null,"values":[700,710,720,730,740,750,760,770,780,790,800,810,820,830,840,850,860,870,880,890,900]}}}}]}
],
"config":{
"font":"Liberation Sans",
"view":{"continuousWidth":149,"continuousHeight":63,"stroke":"#000","strokeWidth":1},
"line":{"strokeWidth":1.4},
"axis":{"grid":false,"domain":false,"labelFlush":false,"labelOverlap":false,"labelFontSize":12,"titleFontSize":12,"titleFontWeight":"normal","labelColor":"#000","titleColor":"#000","tickColor":"#000","tickSize":-3,"labelFont":"Liberation Sans","titleFont":"Liberation Sans"},
"axisX":{"labelPadding":8,"titlePadding":2},
"axisY":{"labelPadding":6,"titlePadding":0},
"legend":{"orient":"none","legendX":36,"legendY":7,"padding":0,"symbolType":"stroke","symbolSize":169,"symbolStrokeWidth":2,"labelFontSize":12,"labelFont":"Liberation Sans","labelColor":"#000","rowPadding":0,"labelOffset":5}
}
}
